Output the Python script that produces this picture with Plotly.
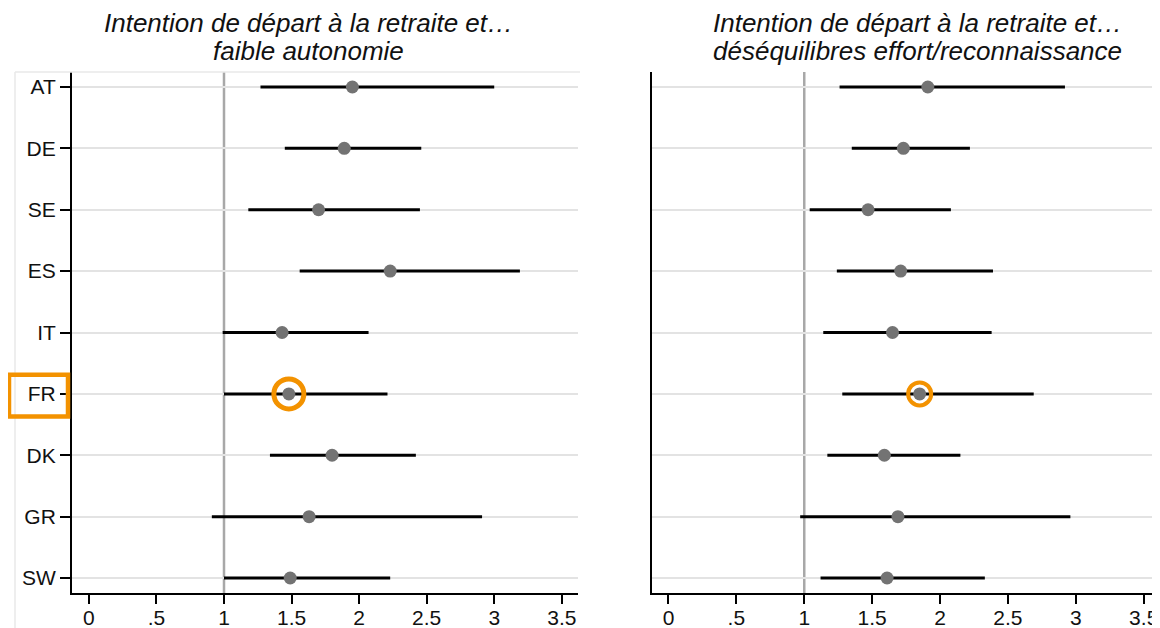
import plotly.graph_objects as go
from plotly.subplots import make_subplots

# ---------------- data ----------------
countries = ["AT", "DE", "SE", "ES", "IT", "FR", "DK", "GR", "SW"]

autonomy_or = [1.95, 1.89, 1.70, 2.23, 1.43, 1.48, 1.80, 1.63, 1.49]
autonomy_lo = [1.27, 1.45, 1.18, 1.56, 0.99, 1.00, 1.34, 0.91, 1.00]
autonomy_hi = [3.00, 2.46, 2.45, 3.19, 2.07, 2.21, 2.42, 2.91, 2.23]

eri_or = [1.91, 1.73, 1.47, 1.71, 1.65, 1.85, 1.59, 1.69, 1.61]
eri_lo = [1.26, 1.35, 1.04, 1.24, 1.14, 1.28, 1.17, 0.97, 1.12]
eri_hi = [2.92, 2.22, 2.08, 2.39, 2.38, 2.69, 2.15, 2.96, 2.33]

highlight = "FR"
reference_value = 1

x_tickvals = [0, 0.5, 1, 1.5, 2, 2.5, 3, 3.5]
x_ticktext = ["0", ".5", "1", "1.5", "2", "2.5", "3", "3.5"]

title_left = ["Intention de départ à la retraite et…", "faible autonomie"]
title_right = ["Intention de départ à la retraite et…", "déséquilibres effort/reconnaissance"]

# ---------------- style ----------------
FONT = "Liberation Sans, Arial, sans-serif"
ORANGE = "#F39200"
DOT = "#737373"
GRID = "#e3e3e3"
OFF = 8                      # page body margin
W, H = 1160 - OFF, 628 - OFF
# plot area in screenshot pixels
PL, PT, PB, PR = 72, 72, 593, 1160
ML, MT = PL - OFF, PT - OFF
MB = H - (PB - OFF)
MR = W - (PR - OFF)
plot_w = W - ML - MR
plot_h = H - MT - MB


def px_x(px):
    return (px - PL) / plot_w


def px_y(py):
    return (PB - py) / plot_h


fig = make_subplots(rows=1, cols=2)

panels = [
    (autonomy_or, autonomy_lo, autonomy_hi, 1, 30, 5),
    (eri_or, eri_lo, eri_hi, 2, 23, 4),
]
for vals, lo, hi, col, ring_size, ring_w in panels:
    fig.add_trace(go.Scatter(
        x=vals, y=countries, mode="markers",
        marker=dict(color=DOT, size=13),
        error_x=dict(type="data", symmetric=False,
                     array=[h - v for h, v in zip(hi, vals)],
                     arrayminus=[v - l for v, l in zip(vals, lo)],
                     color="black", thickness=3, width=0),
        showlegend=False, hoverinfo="x+y",
    ), row=1, col=col)
    i = countries.index(highlight)
    fig.add_trace(go.Scatter(
        x=[vals[i]], y=[countries[i]], mode="markers",
        marker=dict(symbol="circle-open", size=ring_size,
                    line=dict(color=ORANGE, width=ring_w), color=ORANGE),
        showlegend=False, hoverinfo="skip",
    ), row=1, col=col)
    sfx = "" if col == 1 else str(col)
    fig.add_shape(type="line", xref=f"x{sfx}", yref=f"y{sfx} domain",
                  x0=reference_value, x1=reference_value, y0=0, y1=1,
                  line=dict(color="#a8a8a8", width=2.5), layer="below")

dom_left = [0, px_x(578)]
dom_right = [px_x(651.5), 1]

xaxis_common = dict(
    range=[-0.125, 3.62], tickvals=x_tickvals, ticktext=x_ticktext,
    showgrid=False, zeroline=False, showline=True, linecolor="black",
    linewidth=2, ticks="outside", ticklen=9, tickwidth=2, tickcolor="black",
    ticklabelstandoff=-4,
    tickfont=dict(family=FONT, size=21, color="#111111"),
)
yaxis_common = dict(
    type="category", categoryorder="array", categoryarray=countries,
    range=[8.244, -0.244], showgrid=True, gridcolor=GRID, gridwidth=2,
    zeroline=False, showline=True, linecolor="black", linewidth=2,
)

fig.update_layout(
    xaxis=dict(domain=dom_left, **xaxis_common),
    xaxis2=dict(domain=dom_right, **xaxis_common),
    yaxis=dict(ticks="outside", ticklen=10, tickwidth=2, tickcolor="black",
               tickfont=dict(family=FONT, size=21, color="#111111"),
               **yaxis_common),
    yaxis2=dict(ticks="", showticklabels=False, **yaxis_common),
    width=W, height=H,
    margin=dict(l=ML, r=MR, t=MT, b=MB, autoexpand=False),
    paper_bgcolor="white", plot_bgcolor="white",
)

# faint graph-region border of the left panel
fig.add_shape(type="line", xref="paper", yref="paper",
              x0=px_x(15), x1=px_x(580), y0=1, y1=1,
              line=dict(color="#e9e9e9", width=1.5))
fig.add_shape(type="line", xref="paper", yref="paper",
              x0=px_x(15), x1=px_x(15), y0=1, y1=px_y(640),
              line=dict(color="#e9e9e9", width=1.5))

# orange box around the highlighted label
hi_idx = countries.index(highlight)
fig.add_shape(type="rect", xref="paper", yref="y",
              x0=px_x(9), x1=px_x(68),
              y0=hi_idx - 0.31, y1=hi_idx + 0.37,
              line=dict(color=ORANGE, width=4.5), fillcolor="rgba(0,0,0,0)")

# titles
for cx, lines in [(308.5, title_left), (917, title_right)]:
    for txt, cy in zip(lines, [23, 51]):
        fig.add_annotation(x=px_x(cx), y=px_y(cy), xref="paper", yref="paper",
                           text=f"<i>{txt}</i>", showarrow=False,
                           xanchor="center", yanchor="middle",
                           font=dict(family=FONT, size=26, color="#111111"))

fig.write_html("out.html")
